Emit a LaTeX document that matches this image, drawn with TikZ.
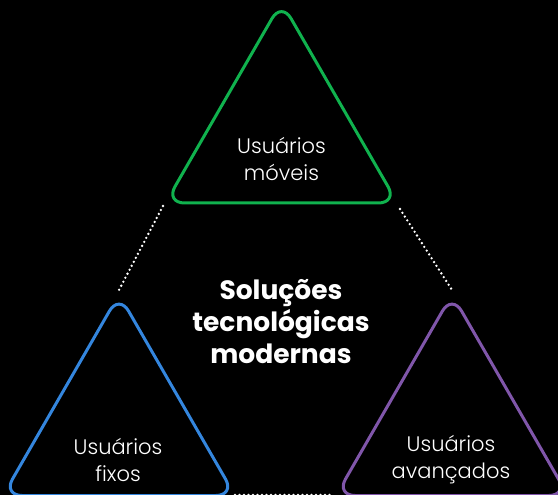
\documentclass[tikz,border=0pt]{standalone}
\usepackage{fontspec}
\setmainfont{Poppins}
\newfontfamily\leve{Poppins Light}
\usetikzlibrary{calc}
\definecolor{verdeTri}{RGB}{16,178,78}
\definecolor{azulTri}{RGB}{52,134,222}
\definecolor{roxoTri}{RGB}{128,86,170}
\newcommand*{\triMeio}{116}
\newcommand*{\triAlt}{201}
\newcommand*{\larg}{558}
\newcommand*{\alt}{495}

\begin{document}
\begin{tikzpicture}[x=1pt,y=-1pt,
	tri/.style={line width=3pt,rounded corners=19pt},
	rotulo/.style={text=white,align=center,font=\leve\fontsize{21}{27}\selectfont},
	titulo/.style={text=white,align=center,font=\bfseries\fontsize{26.5}{32}\selectfont},
	ligacao/.style={white,line width=2.6pt,dash pattern=on 0pt off 4.5pt,line cap=round}]
	\fill[black] (0,0) rectangle (\larg,\alt);
	\useasboundingbox (0,0) rectangle (\larg,\alt);
	\clip (0,0) rectangle (\larg,\alt);

	% tres triangulos
	\foreach \cx/\ay/\cor in {281.5/2/verdeTri, 119/294.5/azulTri, 452/294.5/roxoTri} {
		\draw[tri,\cor] (\cx,{\ay+\triAlt}) -- ++(\triMeio,0) -- (\cx,\ay) -- ({\cx-\triMeio},{\ay+\triAlt}) -- cycle;
	}

	\node[rotulo] (moveis) at (281.5,159) {Usuários\\móveis};
	\node[rotulo] (fixos) at (118,460) {Usuários\\fixos};
	\node[rotulo] (avancados) at (451,460) {Usuários\\avançados};
	\node[titulo] (solucoes) at (281,322) {Soluções\\tecnológicas\\modernas};

	% ligacoes pontilhadas
	\coordinate (ligEsqA) at (163,206);
	\coordinate (ligEsqB) at (119,290);
	\coordinate (ligDirA) at (400,209);
	\coordinate (ligDirB) at (452,290);
	\coordinate (ligBaixoA) at (235,495);
	\coordinate (ligBaixoB) at (333,495);
	\draw[ligacao] (ligEsqA) -- (ligEsqB);
	\draw[ligacao] (ligDirA) -- (ligDirB);
	\draw[ligacao] (ligBaixoA) -- (ligBaixoB);
\end{tikzpicture}
\end{document}
